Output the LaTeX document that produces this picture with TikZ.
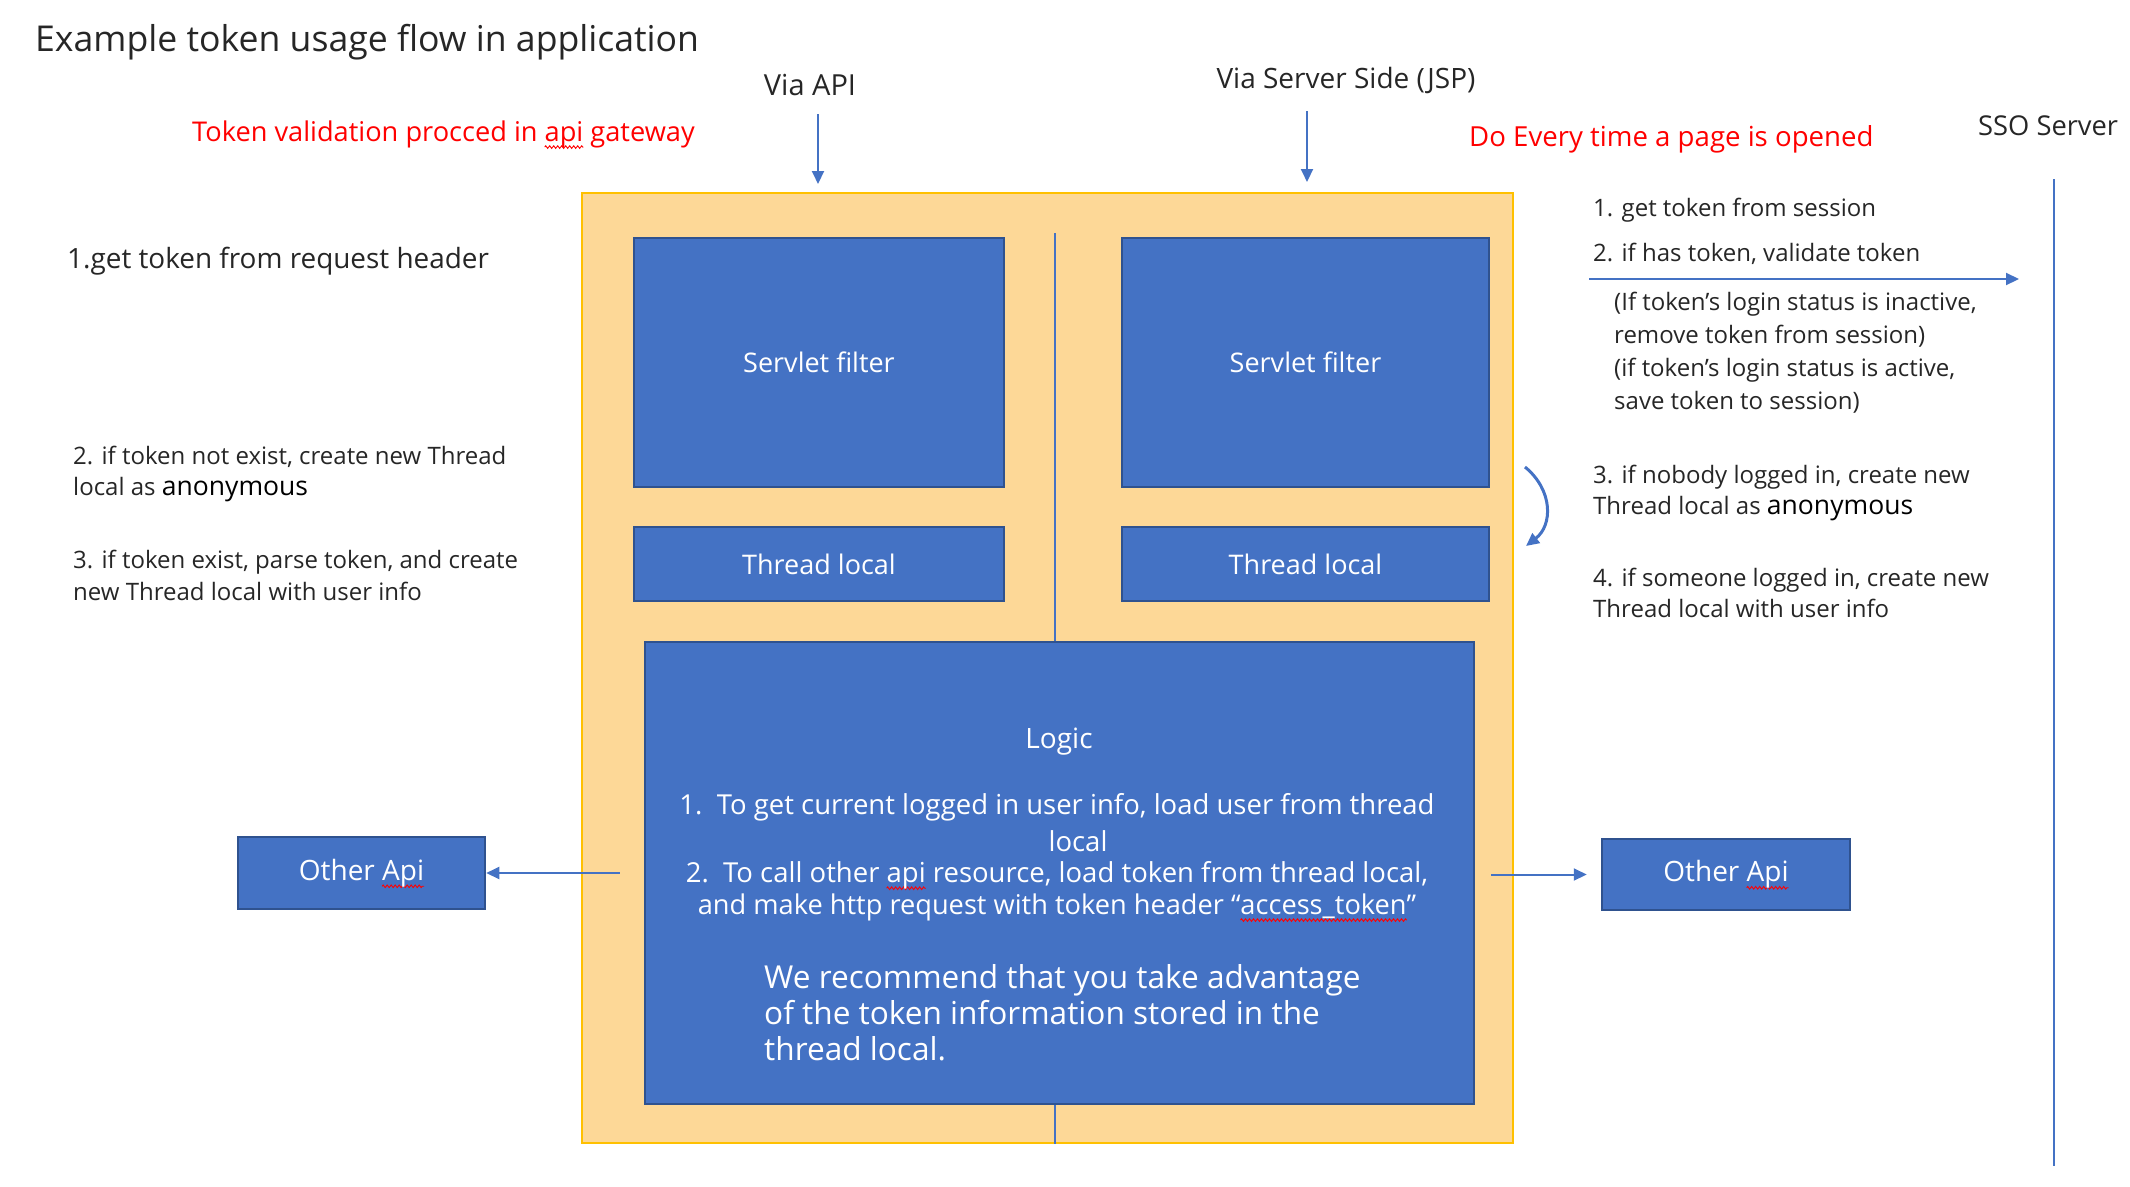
\documentclass[tikz,border=0pt]{standalone}
\usepackage{fontspec}
\setmainfont{Open Sans}
\usetikzlibrary{arrows.meta,decorations.pathmorphing}
\definecolor{bluefill}{HTML}{4472C4}
\definecolor{blueedge}{HTML}{2F528F}
\definecolor{orfill}{HTML}{FDD897}
\definecolor{oredge}{HTML}{FFC000}
\definecolor{txt}{HTML}{262626}
\definecolor{redtxt}{HTML}{FF0000}
\newcommand\fsz[2]{\fontsize{#1}{#2}\selectfont}
\newdimen\spellw
\newcommand\spellwave[1]{\setbox0\hbox{#1}\spellw=\wd0\relax\rlap{\tikz[overlay,x=1pt,y=1pt]\draw[red, line width=0.9pt, decorate, decoration={zigzag, amplitude=1.3pt, segment length=4pt}] (0,-6) -- (\spellw,-6);}\box0\relax}
\newcommand\anon{{\color{black}\fontsize{26.5}{31}\selectfont anonymous}}
\begin{document}
\begin{tikzpicture}[x=1pt,y=-1pt,
  bluebox/.style={draw=blueedge, line width=2.5pt, fill=bluefill, text=white, inner sep=0pt, font=\fsz{27}{33}},
  orbox/.style={draw=oredge, line width=2pt, fill=orfill, inner sep=0pt},
  lbl/.style={inner sep=0pt, text=txt},
  inbox/.style={inner sep=0pt, text=white},
  arr/.style={draw=bluefill, line width=2pt, -{Triangle[length=13pt,width=12pt]}},
  plain/.style={draw=bluefill, line width=2pt}
]
\useasboundingbox (0,0) rectangle (2130,1186);

% title and headers
\node[lbl, anchor=west, font=\fsz{35.6}{42}] (title) at (35,42) {Example token usage flow in application};
\node[lbl, font=\fsz{29}{35}] (viaapi) at (810,85) {Via API};
\node[lbl, font=\fsz{28}{34}] (viajsp) at (1346,80) {Via Server Side (JSP)};
\node[lbl, anchor=west, text=redtxt, font=\fsz{27.2}{33}] (redL) at (192,134) {Token validation procced in \spellwave{api} gateway};
\node[lbl, anchor=west, text=redtxt, font=\fsz{27.6}{33}] (redR) at (1469,139) {Do Every time a page is opened};
\node[lbl, anchor=west, font=\fsz{27.3}{33}] (sso) at (1978,126) {SSO Server};

% orange container
\node[orbox, minimum width=931, minimum height=950] (orange) at (1047.5,668) {};

% center divider
\coordinate (midtop) at (1055,233);
\draw[plain, line width=1.8pt] (midtop) -- (midtop |- orange.south);

% boxes
\node[bluebox, minimum width=370, minimum height=249] (sf1) at (819,362.5) {Servlet filter};
\node[bluebox, minimum width=367, minimum height=249] (sf2) at (1305.5,362.5) {Servlet filter};
\node[bluebox, minimum width=370, minimum height=74] (tl1) at (819,564) {Thread local};
\node[bluebox, minimum width=367, minimum height=74] (tl2) at (1305.5,564) {Thread local};
\node[bluebox, minimum width=829, minimum height=462] (logic) at (1059.5,873) {};
\node[bluebox, minimum width=247, minimum height=72, font=\fsz{28}{33}] (otherL) at (361.5,873) {Other \spellwave{Api}};
\node[bluebox, minimum width=248, minimum height=71, font=\fsz{28}{33}] (otherR) at (1726,874.5) {Other \spellwave{Api}};

% logic text
\node[inbox, font=\fsz{28}{33}] (logict) at (1059,742) {Logic};
\node[inbox, font=\fsz{27.5}{33}] (logic1) at (1057,807) {1.\ \ To get current logged in user info, load user from thread};
\node[inbox, font=\fsz{27.5}{33}] (logic1b) at (1078,841) {local};
\node[inbox, font=\fsz{27.5}{33}] (logic2) at (1057,875) {2.\ \ To call other \spellwave{api} resource, load token from thread local,};
\node[inbox, font=\fsz{27.2}{33}] (logic3) at (1057,907) {and make http request with token header “\spellwave{access\_token}”};
\node[inbox, anchor=west, align=left, font=\fsz{31.6}{36}] (recommend) at (764,1013) {We recommend that you take advantage\\of the token information stored in the\\thread local.};

% left notes
\node[lbl, anchor=west, font=\fsz{27.9}{33}] (L1) at (67,261) {1.get token from request header};
\node[lbl, anchor=west, align=left, font=\fsz{24}{31}] (L2) at (73,474) {2. if token not exist, create new Thread\\local as \anon};
\node[lbl, anchor=west, align=left, font=\fsz{24}{32}] (L3) at (73,575) {3. if token exist, parse token, and create\\new Thread local with user info};

% right notes
\node[lbl, anchor=west, font=\fsz{24}{30}] (R1) at (1593,210) {1. get token from session};
\node[lbl, anchor=west, font=\fsz{24}{30}] (R2) at (1593,254) {2. if has token, validate token};
\node[lbl, anchor=west, align=left, font=\fsz{24}{33}] (R3) at (1614,353) {(If token’s login status is inactive,\\remove token from session)\\(if token’s login status is active,\\save token to session)};
\node[lbl, anchor=west, align=left, font=\fsz{24}{31}] (R4) at (1593,493) {3. if nobody logged in, create new\\Thread local as \anon};
\node[lbl, anchor=west, align=left, font=\fsz{24}{31}] (R5) at (1593,593) {4. if someone logged in, create new\\Thread local with user info};

% SSO server line
\coordinate (ssotop) at (2054,179);
\coordinate (ssobot) at (2054,1166);
\draw[plain] (ssotop) -- (ssobot);

% arrows
\coordinate (apistart) at (818,114);
\draw[arr, shorten >=8pt] (apistart) -- (apistart |- orange.north);
\coordinate (jspstart) at (1307,111);
\draw[arr, shorten >=10pt] (jspstart) -- (jspstart |- orange.north);
\coordinate (valstart) at (1589,279);
\draw[arr, shorten >=35pt] (valstart) -- (valstart -| ssotop);
\draw[arr] ([xshift=-24pt]logic.west) -- (otherL.east);
\draw[arr, shorten <=16pt, shorten >=14pt] (logic.east |- otherR.west) -- (otherR.west);
\coordinate (cvtop) at (1525,467);
\coordinate (cvbot) at (1526,546);
\draw[arr, line width=3pt] (cvtop) .. controls (1553,490) and (1553,525) .. (cvbot);
\end{tikzpicture}
\end{document}
